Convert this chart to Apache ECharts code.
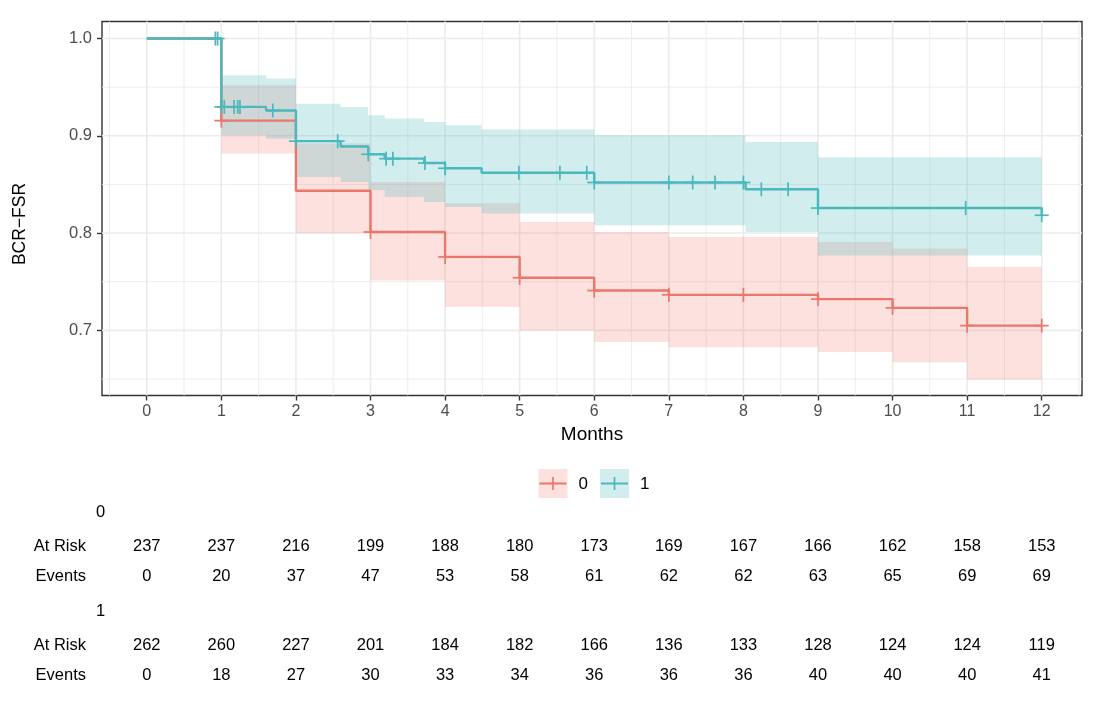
<!DOCTYPE html>
<html><head><meta charset="utf-8">
<script src="https://cdn.jsdelivr.net/npm/echarts@6/dist/echarts.min.js"></script>
<style>html,body{margin:0;padding:0;background:#fff}#chart{width:1100px;height:713px}</style>
</head><body><div id="chart"></div>
<script>
// ---------- data ----------
const months = [0,1,2,3,4,5,6,7,8,9,10,11,12];
const yTickValues = [0.7,0.8,0.9,1.0];
const xMinorGrid = [-0.5,0.5,1.5,2.5,3.5,4.5,5.5,6.5,7.5,8.5,9.5,10.5,11.5,12.5];
const yMinorGrid = [0.65,0.75,0.85,0.95];

const strata = ['0','1'];

// KM step curves
const survTime0 = [0, 1, 2, 3, 4, 5, 6, 7, 9, 10, 11, 12];
const survProb0 = [1, 0.9156, 0.8435, 0.8011, 0.7755, 0.7540, 0.7409, 0.7365, 0.7321, 0.7231, 0.7048, 0.7048];
const survTime1 = [0, 1, 1.6, 2, 2.6, 2.97, 3.19, 3.72, 4, 4.49, 6, 8.03, 9, 12];
const survProb1 = [1, 0.9297, 0.926, 0.8945, 0.889, 0.881, 0.8765, 0.872, 0.8666, 0.862, 0.852, 0.845, 0.8257, 0.8183];

// censor marks
const censorTime0 = [1, 3, 4, 5, 6, 7, 8, 9, 10, 11, 12];
const censorProb0 = [0.9156, 0.8011, 0.7755, 0.7540, 0.7409, 0.7365, 0.7365, 0.7321, 0.7231, 0.7048, 0.7048];
const censorTime1 = [0.92, 0.95, 1, 1.04, 1.17, 1.22, 1.25, 1.69, 2, 2.56, 2.97, 3.21, 3.3, 3.73, 4, 4.99, 5.54, 5.9, 6, 7, 7.32, 7.62, 8, 8.24, 8.6, 9, 10.98, 12];
const censorProb1 = [1, 1, 0.9297, 0.9297, 0.9297, 0.9297, 0.9297, 0.926, 0.8945, 0.8945, 0.881, 0.8765, 0.8765, 0.872, 0.8666, 0.862, 0.862, 0.862, 0.852, 0.852, 0.852, 0.852, 0.852, 0.845, 0.845, 0.8257, 0.8257, 0.8183];

// confidence bands (step segments)
const band0Start = [1, 2, 3, 4, 5, 6, 7, 9, 10, 11];
const band0End   = [2, 3, 4, 5, 6, 7, 9, 10, 11, 12];
const band0Lower = [0.8817, 0.7997, 0.7513, 0.724, 0.6999, 0.6879, 0.6827, 0.6776, 0.6673, 0.6492];
const band0Upper = [0.952, 0.892, 0.8525, 0.8306, 0.8113, 0.801, 0.796, 0.7907, 0.784, 0.765];
const band1Start = [1, 1.6, 2, 2.6, 2.97, 3.19, 3.72, 4, 4.49, 6, 8.03, 9];
const band1End   = [1.6, 2, 2.6, 2.97, 3.19, 3.72, 4, 4.49, 6, 8.03, 9, 12];
const band1Lower = [0.9005, 0.897, 0.8576, 0.8525, 0.844, 0.837, 0.832, 0.8267, 0.82, 0.808, 0.801, 0.777];
const band1Upper = [0.9622, 0.9588, 0.933, 0.9296, 0.921, 0.9177, 0.9142, 0.9108, 0.9064, 0.9005, 0.8936, 0.878];

// risk table
const atRisk0 = [237,237,216,199,188,180,173,169,167,166,162,158,153];
const events0 = [0,20,37,47,53,58,61,62,62,63,65,69,69];
const atRisk1 = [262,260,227,201,184,182,166,136,133,128,124,124,119];
const events1 = [0,18,27,30,33,34,36,36,36,40,40,40,41];

// ---------- styles / layout ----------
const X_MIN = -0.6, X_MAX = 12.54, Y_MIN = 0.633, Y_MAX = 1.0175;
const col0 = '#EA776A', col1 = '#4BB8BD';
const fill0 = 'rgba(240,118,108,0.22)', fill1 = 'rgba(77,185,190,0.26)';
const FONT = "'Liberation Sans', Arial, sans-serif";
const rowY = { hdr0: 512, risk0: 546.5, ev0: 576, hdr1: 611, risk1: 645, ev1: 675 };

function gridRender(params, api) {
  const cs = params.coordSys;
  const children = [];
  const add = (vals, isX, w) => vals.forEach(v => {
    if (isX) {
      if (v > X_MAX || v < X_MIN) return;
      const x = api.coord([v, Y_MIN])[0];
      children.push({type:'line', shape:{x1:x, y1:cs.y, x2:x, y2:cs.y+cs.height}, style:{stroke:'#EBEBEB', lineWidth:w}});
    } else {
      const y = api.coord([X_MIN, v])[1];
      children.push({type:'line', shape:{x1:cs.x, y1:y, x2:cs.x+cs.width, y2:y}, style:{stroke:'#EBEBEB', lineWidth:w}});
    }
  });
  add(xMinorGrid, true, 0.9); add(yMinorGrid, false, 0.9);
  add(months, true, 1.6); add(yTickValues, false, 1.6);
  return {type:'group', children};
}

function bandRender(starts, ends, lows, highs, fill) {
  return function (params, api) {
    const pts = [];
    for (let i = 0; i < starts.length; i++) {
      pts.push(api.coord([starts[i], highs[i]]));
      pts.push(api.coord([ends[i], highs[i]]));
    }
    for (let i = starts.length - 1; i >= 0; i--) {
      pts.push(api.coord([ends[i], lows[i]]));
      pts.push(api.coord([starts[i], lows[i]]));
    }
    return {type:'polygon', shape:{points: pts}, style:{fill: fill}};
  };
}

function censorRender(color) {
  return function (params, api) {
    const p = api.coord([api.value(0), api.value(1)]);
    const h = 7;
    return {type:'group', children:[
      {type:'line', shape:{x1:p[0]-h, y1:p[1], x2:p[0]+h, y2:p[1]}, style:{stroke:color, lineWidth:1.7}},
      {type:'line', shape:{x1:p[0], y1:p[1]-h, x2:p[0], y2:p[1]+h}, style:{stroke:color, lineWidth:1.7}}
    ]};
  };
}

function tableRender(params, api) {
  const x = api.coord([api.value(0), Y_MIN])[0];
  const mk = (v, y) => ({type:'text', style:{text:String(v), x:x, y:y, align:'center', verticalAlign:'middle', fontSize:16.5, fontFamily:FONT, fill:'#000'}});
  return {type:'group', children:[
    mk(api.value(1), rowY.risk0), mk(api.value(2), rowY.ev0),
    mk(api.value(3), rowY.risk1), mk(api.value(4), rowY.ev1)
  ]};
}

const chart = echarts.init(document.getElementById('chart'), null, {renderer:'canvas'});

const txt = (text, x, y, align, size) => ({type:'text', style:{text, x, y, align, verticalAlign:'middle', fontSize:size, fontFamily:FONT, fill:'#000'}});

chart.setOption({
  animation: false,
  backgroundColor: '#fff',
  grid: {left:102, right:18, top:21.5, height:374, show:true, borderColor:'#333', borderWidth:1.4, backgroundColor:'transparent'},
  xAxis: {
    type:'value', min:X_MIN, max:X_MAX,
    name:'Months', nameLocation:'middle', nameGap:30,
    nameTextStyle:{fontSize:19, fontFamily:FONT, color:'#000'},
    axisLine:{show:false, onZero:false},
    axisTick:{show:true, customValues:months, length:5, lineStyle:{color:'#333', width:1.4}},
    axisLabel:{show:true, customValues:months, margin:8, fontSize:16, fontFamily:FONT, color:'#4D4D4D'},
    splitLine:{show:false}
  },
  yAxis: {
    type:'value', min:Y_MIN, max:Y_MAX,
    axisLine:{show:false, onZero:false},
    axisTick:{show:true, customValues:yTickValues, length:5, lineStyle:{color:'#333', width:1.4}},
    axisLabel:{show:true, customValues:yTickValues, margin:10, fontSize:16.5, fontFamily:FONT, color:'#4D4D4D', formatter:v => v.toFixed(1)},
    splitLine:{show:false}
  },
  series: [
    {type:'custom', silent:true, renderItem:gridRender, data:[[0, 0.8]], z:1},
    {type:'custom', silent:true, name:strata[0], renderItem:bandRender(band0Start, band0End, band0Lower, band0Upper, fill0), data:[[band0Start[0], band0Lower[0]]], z:2},
    {type:'custom', silent:true, name:strata[1], renderItem:bandRender(band1Start, band1End, band1Lower, band1Upper, fill1), data:[[band1Start[0], band1Lower[0]]], z:3},
    {type:'line', silent:true, step:'end', showSymbol:false, data:survTime0.map((t,i)=>[t, survProb0[i]]), lineStyle:{color:col0, width:2.4}, z:4},
    {type:'line', silent:true, step:'end', showSymbol:false, data:survTime1.map((t,i)=>[t, survProb1[i]]), lineStyle:{color:col1, width:2.4}, z:5},
    {type:'custom', silent:true, renderItem:censorRender(col0), data:censorTime0.map((t,i)=>[t, censorProb0[i]]), z:6},
    {type:'custom', silent:true, renderItem:censorRender(col1), data:censorTime1.map((t,i)=>[t, censorProb1[i]]), z:7},
    {type:'custom', silent:true, clip:false, renderItem:tableRender, encode:{x:0, y:-1}, data:months.map((t,i)=>[t, atRisk0[i], events0[i], atRisk1[i], events1[i]]), z:8}
  ],
  graphic: [
    // y axis title
    {type:'text', x:20, y:224, rotation:Math.PI/2, style:{text:'BCR\u2212FSR', align:'center', verticalAlign:'middle', fontSize:17.5, fontFamily:FONT, fill:'#000'}},
    // legend
    {type:'rect', shape:{x:538.5, y:469, width:29, height:29}, style:{fill:fill0}},
    {type:'line', shape:{x1:539.5, y1:483.5, x2:566.5, y2:483.5}, style:{stroke:col0, lineWidth:2}},
    {type:'line', shape:{x1:553, y1:477, x2:553, y2:490}, style:{stroke:col0, lineWidth:1.7}},
    txt(strata[0], 578.5, 484, 'left', 17),
    {type:'rect', shape:{x:600, y:469, width:29, height:29}, style:{fill:fill1}},
    {type:'line', shape:{x1:601, y1:483.5, x2:628, y2:483.5}, style:{stroke:col1, lineWidth:2}},
    {type:'line', shape:{x1:614.5, y1:477, x2:614.5, y2:490}, style:{stroke:col1, lineWidth:1.7}},
    txt(strata[1], 640, 484, 'left', 17),
    // risk table labels
    txt(strata[0], 100.5, rowY.hdr0, 'center', 16.5),
    txt('At Risk', 86, rowY.risk0, 'right', 16.5),
    txt('Events', 86, rowY.ev0, 'right', 16.5),
    txt(strata[1], 100.5, rowY.hdr1, 'center', 16.5),
    txt('At Risk', 86, rowY.risk1, 'right', 16.5),
    txt('Events', 86, rowY.ev1, 'right', 16.5)
  ]
});
</script></body></html>
